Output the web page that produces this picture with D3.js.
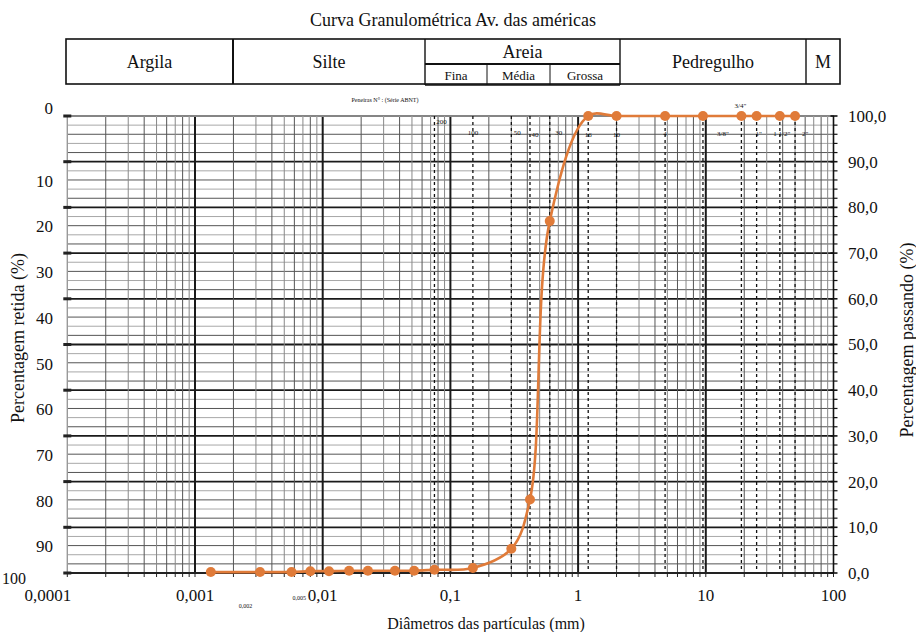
<!DOCTYPE html>
<html>
<head>
<meta charset="utf-8">
<script src="https://cdn.jsdelivr.net/npm/d3@7"></script>
<style>
  body { margin: 0; background: #fff; }
  text { font-family: "Liberation Serif", "DejaVu Serif", serif; fill: #111; }
</style>
</head>
<body>
<div id="chart"></div>
<script>
// ensaio granulometrico - % passando por diametro (mm)
const diameters = [0.00133, 0.00323, 0.0057, 0.008, 0.0112, 0.0161, 0.0226, 0.0368, 0.052, 0.075,
  0.15, 0.3, 0.42, 0.6, 1.2, 2.0, 4.8, 9.5, 19, 25, 38, 50];
const passing = [0.2, 0.2, 0.2, 0.4, 0.4, 0.5, 0.5, 0.5, 0.5, 0.7,
  1.1, 5.3, 16.1, 77.0, 100, 100, 100, 100, 100, 100, 100, 100];

const sieveSizes = [0.075, 0.15, 0.3, 0.42, 0.6, 1.2, 2.0, 4.8, 9.5, 19, 25, 38, 50];
const sieveLabels = ["200", "100", "50", "40", "30", "16", "10", "4", "3/8\"", "3/4\"", "1\"", "1 1/2\"", "2\""];

const xTicks = [0.0001, 0.001, 0.01, 0.1, 1, 10, 100];
const xTickLabels = ["0,0001", "0,001", "0,01", "0,1", "1", "10", "100"];
const xExtra = [0.002, 0.005];
const xExtraLabels = ["0,002", "0,005"];

const retidaTicks = [0, 10, 20, 30, 40, 50, 60, 70, 80, 90, 100];
const passandoTicks = [0, 10, 20, 30, 40, 50, 60, 70, 80, 90, 100];

const soilClasses = ["Argila", "Silte", "Areia", "Pedregulho", "M"];
const sandClasses = ["Fina", "Média", "Grossa"];

const width = 916, height = 632;
const orange = "#e07b39";

const svg = d3.select("#chart")
  .append("svg")
  .attr("width", width)
  .attr("height", height);

const x = d3.scaleLog().domain([0.0001, 100]).range([67.3, 833.5]);
const y = d3.scaleLinear().domain([0, 100]).range([573, 116]);      // passando
const yRet = d3.scaleLinear().domain([0, 100]).range([116, 573]);   // retida

// titulo
svg.append("text")
  .attr("x", 453).attr("y", 26)
  .attr("text-anchor", "middle")
  .style("font-size", "18px")
  .text("Curva Granulométrica Av. das américas");

// tabela de classificacao
const tbl = svg.append("g");
const colEdges = [66, 233, 425, 620, 806, 840];
const sandEdges = [425, 487, 550, 620];
const tTop = 39, tMid = 64, tBot = 84;

tbl.append("rect")
  .attr("x", 66).attr("y", tTop)
  .attr("width", 840 - 66).attr("height", tBot - tTop)
  .attr("fill", "none").attr("stroke", "#111").attr("stroke-width", 1.6);

colEdges.slice(1, -1).forEach((e, i) => {
  tbl.append("line")
    .attr("x1", e).attr("x2", e)
    .attr("y1", tTop).attr("y2", i === 1 || i === 2 ? tBot + 1 : tBot)
    .attr("stroke", "#111").attr("stroke-width", i === 0 ? 2 : 1.4);
});
tbl.append("line")
  .attr("x1", 425).attr("x2", 620).attr("y1", tMid).attr("y2", tMid)
  .attr("stroke", "#111").attr("stroke-width", 2);
tbl.append("line")
  .attr("x1", 425).attr("x2", 620).attr("y1", tBot + 1).attr("y2", tBot + 1)
  .attr("stroke", "#111").attr("stroke-width", 1.6);
sandEdges.slice(1, -1).forEach(e => {
  tbl.append("line")
    .attr("x1", e).attr("x2", e).attr("y1", tMid).attr("y2", tBot + 1)
    .attr("stroke", "#111").attr("stroke-width", 1);
});

soilClasses.forEach((c, i) => {
  const cx = (colEdges[i] + colEdges[i + 1]) / 2;
  tbl.append("text")
    .attr("x", cx).attr("y", c === "Areia" ? 58 : 68)
    .attr("text-anchor", "middle")
    .style("font-size", "18px")
    .text(c);
});
sandClasses.forEach((c, i) => {
  tbl.append("text")
    .attr("x", (sandEdges[i] + sandEdges[i + 1]) / 2).attr("y", 80)
    .attr("text-anchor", "middle")
    .style("font-size", "13px")
    .text(c);
});

// grade
const grid = svg.append("g");

// horizontais
d3.range(0, 101, 2).forEach(v => {
  const major = v % 10 === 0;
  const shade = (v % 10) % 4 === 2 ? "#555" : "#a8a8a8";
  grid.append("line")
    .attr("x1", x(0.0001)).attr("x2", x(100))
    .attr("y1", y(v)).attr("y2", y(v))
    .attr("stroke", major ? "#1a1a1a" : shade)
    .attr("stroke-width", major ? 1.8 : 1);
});

// verticais (log)
const minorX = [];
for (let e = -4; e < 2; e++) {
  for (let m = 2; m <= 9; m++) minorX.push(m * Math.pow(10, e));
}
minorX.forEach(v => {
  const m = Math.round(v / Math.pow(10, Math.floor(Math.log10(v) + 1e-9)));
  grid.append("line")
    .attr("x1", x(v)).attr("x2", x(v))
    .attr("y1", y(100)).attr("y2", y(0))
    .attr("stroke", m % 2 === 0 ? "#555" : "#888")
    .attr("stroke-width", 1);
});
xTicks.slice(1, -1).forEach(v => {
  grid.append("line")
    .attr("x1", x(v)).attr("x2", x(v))
    .attr("y1", y(100)).attr("y2", y(0))
    .attr("stroke", "#1a1a1a").attr("stroke-width", 2);
});

// topo e eixo esquerdo (cinza)
grid.append("line")
  .attr("x1", x(0.0001)).attr("x2", x(100)).attr("y1", y(100)).attr("y2", y(100))
  .attr("stroke", "#aaa").attr("stroke-width", 1.6);
grid.append("line")
  .attr("x1", x(0.0001)).attr("x2", x(0.0001)).attr("y1", y(100)).attr("y2", y(0))
  .attr("stroke", "#999").attr("stroke-width", 1.4);

// peneiras
const sieves = svg.append("g");
sieves.selectAll("line")
  .data(sieveSizes)
  .join("line")
  .attr("x1", d => x(d)).attr("x2", d => x(d))
  .attr("y1", y(100)).attr("y2", y(0))
  .attr("stroke", "#111").attr("stroke-width", 1.3)
  .attr("stroke-dasharray", "3,3");

const labelShift = {
  "200": [7, 124], "100": [0, 135], "50": [6, 135], "40": [5, 137], "30": [9, 135],
  "16": [0, 137], "10": [0, 137], "4": [0, 136], "3/8\"": [20, 136],
  "3/4\"": [-1, 108], "1\"": [2, 136], "1 1/2\"": [2, 136], "2\"": [10, 136]
};
sieves.selectAll("text")
  .data(sieveSizes)
  .join("text")
  .attr("x", (d, i) => x(d) + labelShift[sieveLabels[i]][0])
  .attr("y", (d, i) => labelShift[sieveLabels[i]][1])
  .attr("text-anchor", "middle")
  .style("font-size", "7px")
  .text((d, i) => sieveLabels[i]);

svg.append("text")
  .attr("x", 385).attr("y", 102)
  .attr("text-anchor", "middle")
  .style("font-size", "6px")
  .text("Peneiras N° : (Série ABNT)");

// eixo x
const axisG = svg.append("g");
axisG.append("line")
  .attr("x1", x(0.0001)).attr("x2", x(100)).attr("y1", y(0)).attr("y2", y(0))
  .attr("stroke", "#222").attr("stroke-width", 2);
minorX.concat(xTicks).forEach(v => {
  axisG.append("line")
    .attr("x1", x(v)).attr("x2", x(v)).attr("y1", y(0)).attr("y2", y(0) + 4)
    .attr("stroke", "#222").attr("stroke-width", 1);
});
axisG.selectAll("text.xl")
  .data(xTicks)
  .join("text")
  .attr("class", "xl")
  .attr("x", (d, i) => i === 0 ? x(d) + 4 : x(d))
  .attr("y", 601)
  .attr("text-anchor", (d, i) => i === 0 ? "end" : "middle")
  .style("font-size", "17px")
  .text((d, i) => xTickLabels[i]);
axisG.selectAll("text.xe")
  .data(xExtra)
  .join("text")
  .attr("class", "xe")
  .attr("x", (d, i) => x(d) + (i === 0 ? 12 : 15))
  .attr("y", (d, i) => i === 0 ? 608 : 600)
  .attr("text-anchor", "middle")
  .style("font-size", "6px")
  .text((d, i) => xExtraLabels[i]);

svg.append("text")
  .attr("x", 486).attr("y", 629)
  .attr("text-anchor", "middle")
  .style("font-size", "16px")
  .text("Diâmetros das partículas (mm)");

// eixo esquerdo - retida
retidaTicks.forEach(v => {
  svg.append("rect")
    .attr("x", x(0.0001) - 4).attr("y", yRet(v) - 1.5)
    .attr("width", 8).attr("height", 3)
    .attr("fill", "#222");
});
svg.selectAll("text.yl")
  .data(retidaTicks)
  .join("text")
  .attr("class", "yl")
  .attr("x", d => d === 100 ? 2 : 53)
  .attr("y", d => d === 0 ? yRet(d) - 2 : d === 100 ? yRet(d) + 11 : yRet(d) + 25)
  .attr("text-anchor", d => d === 100 ? "start" : "end")
  .style("font-size", d => d === 100 ? "16px" : "17px")
  .text(d => d);

svg.append("text")
  .attr("transform", "translate(24,338) rotate(-90)")
  .attr("text-anchor", "middle")
  .style("font-size", "18px")
  .text("Percentagem retida (%)");

// eixo direito - passando
const right = svg.append("g");
right.append("line")
  .attr("x1", x(100)).attr("x2", x(100)).attr("y1", y(100)).attr("y2", y(0))
  .attr("stroke", "#111").attr("stroke-width", 1.6);
d3.range(0, 101, 2).forEach(v => {
  right.append("line")
    .attr("x1", x(100) - (v % 10 === 0 ? 3 : 0)).attr("x2", x(100) + 4)
    .attr("y1", y(v)).attr("y2", y(v))
    .attr("stroke", "#111").attr("stroke-width", v % 10 === 0 ? 1.6 : 1.2);
});
right.selectAll("text")
  .data(passandoTicks)
  .join("text")
  .attr("x", 848).attr("y", d => y(d))
  .attr("dy", "0.35em")
  .style("font-size", "17px")
  .text(d => d3.format(".1f")(d).replace(".", ","));

svg.append("text")
  .attr("transform", "translate(913,340) rotate(-90)")
  .attr("text-anchor", "middle")
  .style("font-size", "18px")
  .text("Percentagem passando (%)");

// curva
const pts = diameters.map((d, i) => [x(d), y(passing[i])]);
const line = d3.line().curve(d3.curveCatmullRom.alpha(0.5));

svg.append("path")
  .attr("d", line(pts))
  .attr("fill", "none")
  .attr("stroke", orange)
  .attr("stroke-width", 2.6);

svg.selectAll("circle")
  .data(pts)
  .join("circle")
  .attr("cx", d => d[0]).attr("cy", d => d[1])
  .attr("r", 5)
  .attr("fill", orange);
</script>
</body>
</html>
